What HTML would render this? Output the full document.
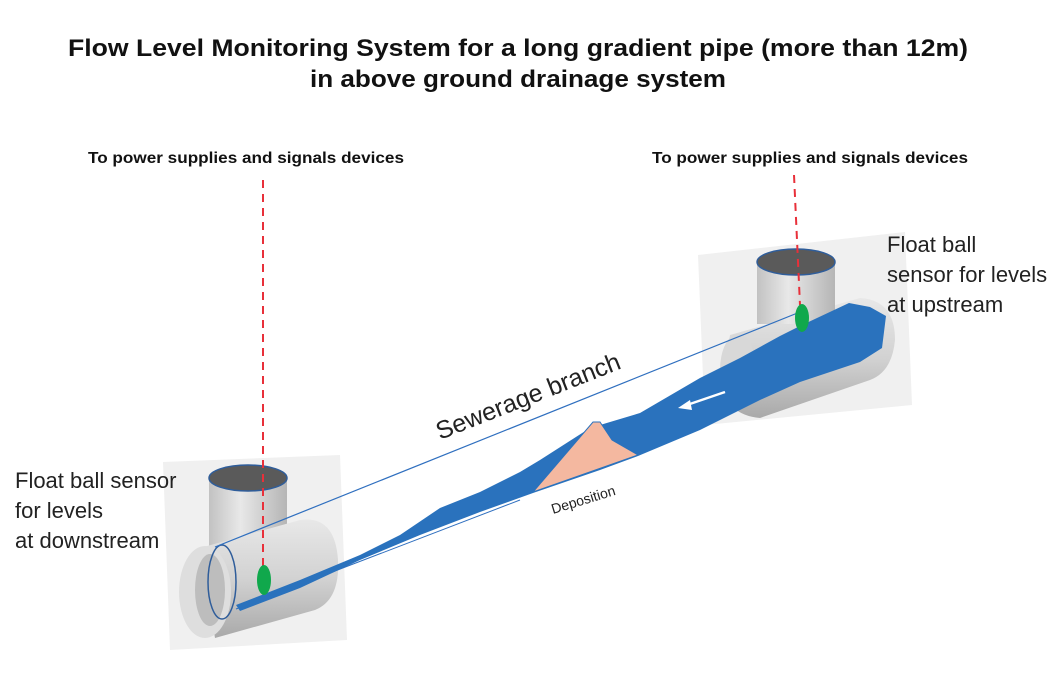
<!DOCTYPE html>
<html><head><meta charset="utf-8"><style>
html,body{margin:0;padding:0;background:#fff;}
svg{display:block;}
</style></head><body>
<svg width="1063" height="680" viewBox="0 0 1063 680" xmlns="http://www.w3.org/2000/svg">
<defs>
<linearGradient id="pg" x1="0" y1="0" x2="0" y2="1">
<stop offset="0" stop-color="#e8e8e8"/><stop offset="0.5" stop-color="#d2d2d2"/><stop offset="1" stop-color="#a9a9a9"/>
</linearGradient>
<linearGradient id="sg" x1="0" y1="0" x2="1" y2="0">
<stop offset="0" stop-color="#c2c2c2"/><stop offset="0.4" stop-color="#e8e8e8"/><stop offset="1" stop-color="#b5b5b5"/>
</linearGradient>
</defs>
<g font-family="'Liberation Sans Narrow','Liberation Sans',sans-serif" font-weight="bold" fill="#111">
<text x="68" y="56" font-size="24" textLength="900" lengthAdjust="spacingAndGlyphs">Flow Level Monitoring System for a long gradient pipe (more than 12m)</text>
<text x="310" y="87" font-size="24" textLength="416" lengthAdjust="spacingAndGlyphs">in above ground drainage system</text>
<text x="88" y="163" font-size="16" textLength="316" lengthAdjust="spacingAndGlyphs">To power supplies and signals devices</text>
<text x="652" y="163" font-size="16" textLength="316" lengthAdjust="spacingAndGlyphs">To power supplies and signals devices</text>
</g>
<!-- backgrounds -->
<polygon points="163,462 340,455 347,640 170,650" fill="#f0f0f0"/>
<polygon points="698,255 905,232 912,405 705,425" fill="#f0f0f0"/>
<!-- left tee -->
<rect x="209" y="478" width="78" height="70" fill="url(#sg)"/>
<ellipse cx="248" cy="478" rx="39" ry="13" fill="#5a5a5a" stroke="#2f5d9a" stroke-width="1.5"/>
<path d="M200,548 L300,520 Q335,515 338,560 Q340,600 315,610 L215,638 Z" fill="url(#pg)"/>
<ellipse cx="205" cy="592" rx="26" ry="46" fill="#dedede"/>
<ellipse cx="210" cy="590" rx="15" ry="36" fill="#bdbdbd"/>
<ellipse cx="222" cy="582" rx="14" ry="37" fill="none" stroke="#2f5d9a" stroke-width="1.5"/>
<!-- right tee -->
<path d="M730,335 L860,298 Q895,300 895,340 Q892,372 870,380 L760,418 Q725,415 722,380 Z" fill="url(#pg)"/>
<ellipse cx="738" cy="370" rx="18" ry="36" fill="#d8d8d8"/>
<rect x="757" y="262" width="78" height="62" fill="url(#sg)"/>
<ellipse cx="796" cy="262" rx="39" ry="13" fill="#5a5a5a" stroke="#2f5d9a" stroke-width="1.5"/>
<!-- pipe outline -->
<line x1="215" y1="547" x2="800" y2="312" stroke="#2f6fbf" stroke-width="1.2"/>
<line x1="236" y1="609" x2="520" y2="500" stroke="#2f6fbf" stroke-width="1"/>
<!-- water -->
<polygon fill="#2a72bd" points="849,303 870,307 886,316 882,348 860,362 800,382 760,400 740,410 700,430 638,456 600,470 533,493 480,512 420,535 360,560 300,588 240,611 236,605 300,580 360,555 400,535 440,508 480,492 520,472 540,460 590,428 640,413 700,378 740,358 780,336 800,326"/>
<polygon fill="#f4b8a0" stroke="#2a72bd" stroke-width="1" points="533,492 593,422 600,422 612,440 638,455"/>
<line x1="725" y1="392" x2="684" y2="406" stroke="#fff" stroke-width="2.5"/>
<polygon points="678,408 690,400 692,410" fill="#fff"/>
<!-- dashed red -->
<line x1="263" y1="180" x2="263" y2="567" stroke="#e8303a" stroke-width="2" stroke-dasharray="8,6"/>
<line x1="794" y1="175" x2="800" y2="305" stroke="#e8303a" stroke-width="2" stroke-dasharray="8,6"/>
<ellipse cx="264" cy="580" rx="7" ry="15" fill="#10a84c"/>
<ellipse cx="802" cy="318" rx="7" ry="14" fill="#10a84c"/>
<g font-family="'Liberation Sans',sans-serif" fill="#222">
<text x="15" y="488" font-size="22">Float ball sensor</text>
<text x="15" y="518" font-size="22">for levels</text>
<text x="15" y="548" font-size="22">at downstream</text>
<text x="887" y="252" font-size="22">Float ball</text>
<text x="887" y="282" font-size="22">sensor for levels</text>
<text x="887" y="312" font-size="22">at upstream</text>
<text x="440" y="440" font-size="25" transform="rotate(-21.5 440 440)">Sewerage branch</text>
<text x="553" y="514" font-size="14" transform="rotate(-17 553 514)">Deposition</text>
</g>
</svg>
</body></html>
